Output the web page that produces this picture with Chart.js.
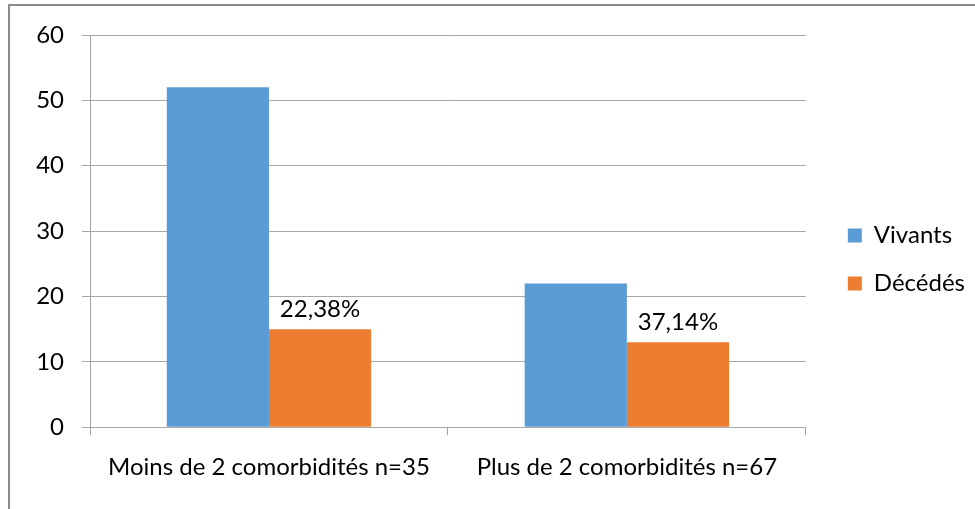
<!DOCTYPE html>
<html>
<head>
<meta charset="utf-8">
<script src="https://cdn.jsdelivr.net/npm/chart.js@4.4.0/dist/chart.umd.min.js"></script>
<style>
  html, body { margin: 0; padding: 0; background: #fff; overflow: hidden; }
  #frame { position: absolute; left: 8px; top: 4px; width: 1000px; height: 540px; border: 2px solid #8c8c8c; box-sizing: border-box; }
  #wrap { position: absolute; left: 0; top: 0; width: 975px; height: 509px; }
</style>
</head>
<body>
<div id="frame"></div>
<div id="wrap"><canvas id="stage" width="975" height="509"></canvas></div>
<script>
// categories & values
let categories = ['Moins de 2 comorbidités n=35', 'Plus de 2 comorbidités n=67'];
let vivants = [52, 22];
let decedes = [15, 13];
let decedesLabels = ['22,38%', '37,14%'];
let yTicks = [0, 10, 20, 30, 40, 50, 60];

let fontFamily = 'Lato, "Open Sans", sans-serif';

// labels au-dessus des barres "Décédés"
let barLabels = {
  id: 'barLabels',
  afterDatasetsDraw(chart) {
    let ctx = chart.ctx;
    let meta = chart.getDatasetMeta(1);
    ctx.save();
    ctx.font = '24px ' + fontFamily;
    ctx.fillStyle = '#000';
    ctx.textAlign = 'center';
    ctx.textBaseline = 'alphabetic';
    meta.data.forEach(function (bar, i) {
      ctx.fillText(decedesLabels[i], bar.x, bar.y - 12);
    });
    ctx.restore();
  }
};

// décale un peu la légende (droite / haut)
let legendShift = {
  id: 'legendShift',
  afterLayout(chart) {
    let lg = chart.legend;
    lg.left += 18; lg.right += 18;
    lg.top -= 8; lg.bottom -= 8;
  }
};

var mydata = {
  labels: categories,
  datasets: [
    { label: 'Vivants', data: vivants, backgroundColor: '#5B9BD5' },
    { label: 'Décédés', data: decedes, backgroundColor: '#ED7D31' }
  ]
};

var canvas = document.getElementById('stage');
var chart = new Chart(canvas, {
  type: 'bar',
  data: mydata,
  plugins: [barLabels, legendShift],
  options: {
    responsive: false,
    animation: false,
    datasets: { bar: { categoryPercentage: 0.571, barPercentage: 1 } },
    layout: { padding: { left: 0, top: 35, right: 18, bottom: 9 } },
    plugins: {
      legend: {
        position: 'right',
        labels: {
          boxWidth: 14, boxHeight: 14, padding: 24,
          color: '#000',
          font: { family: fontFamily, size: 24 }
        }
      },
      tooltip: { enabled: false }
    },
    scales: {
      x: {
        grid: { offset: true, drawOnChartArea: false, color: '#a6a6a6', tickLength: 8 },
        border: { color: '#a6a6a6' },
        ticks: { color: '#000', padding: 18, font: { family: fontFamily, size: 24 } }
      },
      y: {
        min: 0, max: 60,
        afterFit: function (scale) { scale.width = 90; },
        afterBuildTicks: function (scale) { scale.ticks = yTicks.map(v => ({ value: v })); },
        grid: { color: '#a6a6a6', tickLength: 8 },
        border: { color: '#a6a6a6' },
        ticks: { color: '#000', padding: 18, font: { family: fontFamily, size: 24 } }
      }
    }
  }
});
</script>
</body>
</html>
